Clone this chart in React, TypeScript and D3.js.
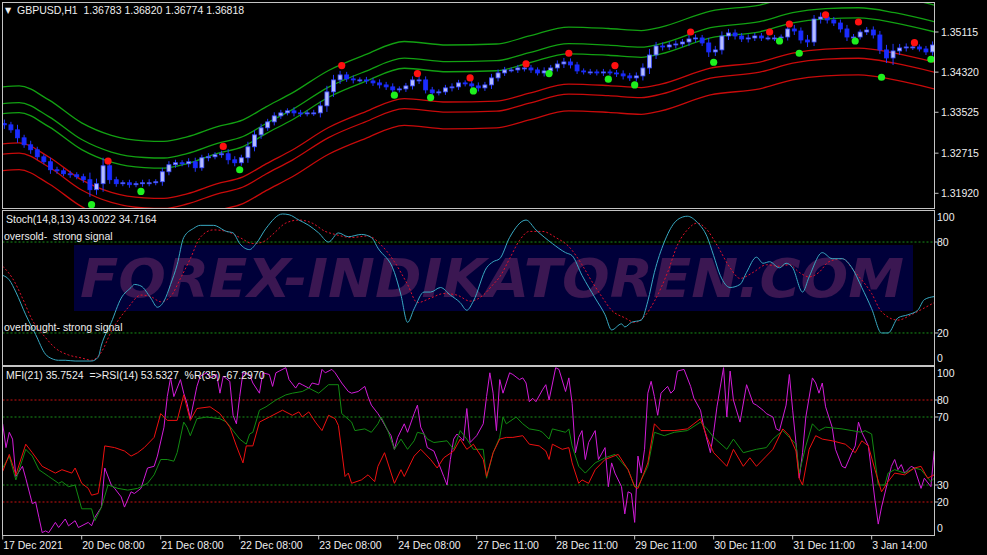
import React from "react";
import * as d3 from "d3";

const headerText = "GBPUSD,H1  1.36783 1.36820 1.36774 1.36818";
const stochTitle = "Stoch(14,8,13) 43.0022 34.7164";
const oversoldText = "oversold-  strong signal";
const overboughtText = "overbought- strong signal";
const oscTitle = "MFI(21) 35.7524  =>RSI(14) 53.5327  %R(35) -67.2970";
const watermark = "FOREX-INDIKATOREN.COM";

const priceTicks = [1.35115, 1.3432, 1.33525, 1.32715, 1.3192];
const timeLabels = ["17 Dec 2021", "20 Dec 08:00", "21 Dec 08:00", "22 Dec 08:00", "23 Dec 08:00", "24 Dec 08:00", "27 Dec 11:00", "28 Dec 11:00", "29 Dec 11:00", "30 Dec 11:00", "31 Dec 11:00", "3 Jan 14:00"];
const timeLabelBars = [0, 24, 48, 72, 96, 120, 144, 168, 192, 216, 240, 264];

// 2-hour candles: closes, open of first candle, wick size in pips
const firstOpen = 1.3330;
const closes = [
  1.33276, 1.33177, 1.33019, 1.32881, 1.32782, 1.32643, 1.32545, 1.32386, 1.32366, 1.32307,
  1.32287, 1.32248, 1.32189, 1.31991, 1.3211, 1.32465, 1.32189, 1.3211, 1.32129, 1.3209,
  1.3211, 1.32129, 1.32129, 1.32149, 1.32347, 1.32486, 1.32525, 1.32505, 1.32545, 1.32426,
  1.32624, 1.32643, 1.32683, 1.32703, 1.32584, 1.32525, 1.32624, 1.32841, 1.33078, 1.33217,
  1.33335, 1.33454, 1.33513, 1.33553, 1.33513, 1.33494, 1.33513, 1.33513, 1.33652, 1.33929,
  1.34166, 1.34265, 1.34186, 1.34166, 1.34166, 1.34146, 1.34107, 1.34067, 1.34028, 1.33968,
  1.33988, 1.34047, 1.34166, 1.34166, 1.33968, 1.33909, 1.33929, 1.34008, 1.34028, 1.34107,
  1.34087, 1.34047, 1.34008, 1.34067, 1.34206, 1.34304, 1.34364, 1.34364, 1.34403, 1.34403,
  1.34364, 1.34304, 1.34344, 1.34403, 1.34482, 1.34522, 1.34463, 1.34344, 1.34324, 1.34324,
  1.34304, 1.34324, 1.34304, 1.34285, 1.34245, 1.34206, 1.34245, 1.34403, 1.3466, 1.34838,
  1.34819, 1.34858, 1.34878, 1.34917, 1.34977, 1.34997, 1.34898, 1.3472, 1.3476, 1.35036,
  1.35096, 1.35036, 1.34977, 1.34997, 1.35036, 1.34997, 1.34997, 1.34997, 1.35016, 1.35175,
  1.35135, 1.34957, 1.34917, 1.35372, 1.35412, 1.35353, 1.35293, 1.35175, 1.35016, 1.35016,
  1.35115, 1.35155, 1.35056, 1.3476, 1.34601, 1.3474, 1.34799, 1.34819, 1.34819, 1.34779,
  1.3472, 1.34858,
];
const wickPips = [
  8, 6, 10, 6, 8, 6, 5, 8, 6, 5,
  6, 5, 6, 14, 10, 16, 8, 6, 5, 6,
  5, 6, 7, 5, 8, 7, 6, 5, 7, 8,
  6, 7, 5, 6, 9, 7, 6, 10, 9, 8,
  6, 7, 6, 5, 7, 6, 5, 6, 9, 12,
  10, 8, 6, 7, 5, 6, 6, 7, 6, 7,
  5, 6, 7, 8, 7, 6, 5, 6, 7, 6,
  5, 6, 7, 6, 8, 7, 6, 5, 6, 7,
  6, 5, 7, 6, 7, 8, 7, 6, 5, 6,
  5, 6, 5, 6, 7, 6, 7, 9, 12, 8,
  7, 6, 7, 6, 8, 7, 6, 10, 8, 9,
  8, 7, 6, 7, 6, 6, 5, 6, 5, 7,
  8, 7, 10, 8, 9, 7, 6, 7, 8, 6,
  5, 6, 7, 8, 10, 14, 8, 7, 6, 5,
  6, 7,
];

// envelope centre [hour, price] and deviations
const envCenter = [
  [0, 1.33197], [5, 1.33217], [14, 1.3294], [24, 1.32485], [33, 1.32238], [43, 1.32129],
  [49, 1.32119], [56, 1.32208], [65, 1.32406], [73, 1.32545], [80, 1.32802], [88, 1.33078],
  [99, 1.33523], [110, 1.3383], [122, 1.34097], [135, 1.34028], [150, 1.34047], [160, 1.34206],
  [172, 1.34383], [184, 1.34354], [194, 1.34314], [200, 1.34383], [215, 1.347], [230, 1.34819],
  [240, 1.34997], [250, 1.35076], [260, 1.35095], [271, 1.34997], [283, 1.34819],
];
const envDeviation = [0.003, 0.005, 0.0083];

const sellSignals = [
  [32, 1.32559], [67, 1.32848], [103, 1.34449], [126, 1.34291], [142, 1.34206], [159, 1.34482],
  [172, 1.34694], [186, 1.34449], [209, 1.35115], [233, 1.35115], [239, 1.35273], [250, 1.35457],
  [260, 1.35313], [277, 1.34903],
];
const buySignals = [
  [27, 1.31694], [42, 1.31958], [72, 1.32386], [119, 1.33863], [130, 1.33816], [143, 1.33948],
  [166, 1.34291], [184, 1.3418], [192, 1.34067], [216, 1.34516], [236, 1.34937], [242, 1.34694],
  [259, 1.34937], [267, 1.34219], [282, 1.34575],
];

const stochMain = [
  [0, 58], [2, 55], [4, 47], [7, 32], [10, 19], [13, 6], [15, 3], [17, 2], [19, 2], [22, 1.5],
  [27, 1.5], [29, 4], [30, 12], [33, 27], [36, 43], [39, 50], [40, 52], [42, 51], [45, 43], [47, 37],
  [49, 41], [51, 52], [53, 65], [55, 83], [58, 89], [60, 91], [64, 91], [68, 87], [70, 86], [72, 79],
  [75, 75], [77, 79], [80, 89], [85, 98.5], [87, 98], [90, 94.5], [93, 91], [96, 86], [99, 80], [102, 86],
  [105, 83.5], [109, 85], [112, 83], [114, 76], [119, 60], [121, 45], [123, 27], [125, 36], [128, 47], [130, 47],
  [133, 50], [136, 45], [139, 40], [141, 35], [143, 41], [147, 63], [149, 67], [151, 69], [154, 83], [159, 94.5],
  [162, 88], [167, 79], [171, 73], [173, 71], [176, 58], [180, 43], [183, 32], [185, 22], [188, 26], [189, 24],
  [191, 27], [194, 28.5], [196, 41], [198, 60], [201, 80], [204, 92.5], [206, 96], [208, 97], [211, 93], [214, 83.5],
  [216, 71], [218, 58], [221, 50], [224, 52], [226, 60], [229, 70], [231, 66], [233, 67], [236, 63], [238, 66],
  [240, 63], [243, 47], [245, 57], [249, 73], [252, 69], [255, 69], [258, 63], [261, 50], [264, 36], [267, 20],
  [269, 20], [272, 30], [275, 32], [278, 35], [280, 42], [283, 44],
];
const stochSignal = [
  [0, 64], [3, 56], [6, 43], [9, 28.5], [13, 17], [16, 10], [20, 5.5], [24, 3.5], [27, 2], [30, 7.5],
  [33, 21], [38, 36.5], [42, 45], [45, 44], [48, 40.6], [51, 44], [54, 56], [57, 69], [60, 83], [64, 88],
  [68, 87], [72, 83], [76, 79], [79, 80], [82, 85], [86, 92.5], [90, 94.5], [94, 92.5], [98, 87], [101, 85],
  [106, 83], [111, 84], [115, 78], [119, 67], [123, 52], [126, 40], [130, 43], [134, 46], [138, 45], [142, 41],
  [146, 45], [149, 52], [151, 57], [154, 69], [157, 81], [160, 87], [164, 87], [168, 83], [172, 77], [176, 65],
  [179, 54], [182, 44], [185, 35], [189, 30], [192, 27], [195, 31], [198, 41], [202, 60], [205, 78], [208, 88],
  [211, 92.5], [214, 88], [217, 78], [221, 63], [224, 56], [228, 60], [232, 65], [236, 64], [239, 65], [242, 60],
  [245, 57], [248, 60], [251, 67], [255, 69], [259, 60], [264, 46], [267, 34], [272, 28.5], [276, 32], [280, 36.5],
  [283, 40],
];
const stochLevels = [80, 20];
const stochAxis = [100, 80, 20, 0];

const wprSeries = [
  [0, 66], [1, 52], [2, 61], [3, 57], [4, 35], [6, 41], [7, 34], [9, 19], [10, 20], [11, 11],
  [12, 2], [13, 3], [14, 2], [16, 8], [17, 5], [19, 10], [20, 6], [22, 9], [23, 5], [26, 8],
  [27, 6], [28, 11], [30, 17], [31, 40], [33, 30], [34, 28], [36, 23], [37, 17], [39, 26], [40, 25],
  [42, 28], [43, 34], [44, 40], [46, 41], [47, 47], [49, 64], [50, 82], [51, 93], [52, 82], [53, 87],
  [54, 92], [55, 84], [56, 78], [57, 69], [59, 88], [60, 94], [62, 96], [63, 93], [65, 95], [66, 84],
  [67, 94], [69, 91], [70, 71], [71, 66], [72, 82], [73, 96], [75, 95], [76, 90], [78, 84], [79, 96],
  [81, 95], [82, 88], [83, 96], [84, 97], [86, 99], [87, 92], [89, 87], [90, 90], [91, 89], [93, 87],
  [94, 90], [96, 89], [97, 98], [98, 96], [100, 98], [101, 96], [103, 90], [105, 85], [106, 84], [108, 85],
  [110, 88], [111, 82], [112, 77], [114, 72], [115, 69], [117, 62], [118, 59], [119, 51], [120, 58], [122, 66],
  [123, 61], [125, 72], [126, 77], [127, 64], [128, 60], [129, 52], [131, 50], [132, 45], [134, 35], [135, 30],
  [136, 45], [137, 57], [138, 60], [140, 56], [141, 75], [142, 55], [144, 59], [146, 66], [147, 82], [148, 96],
  [149, 84], [150, 62], [151, 92], [152, 84], [154, 96], [155, 95], [157, 92], [158, 93], [159, 90], [160, 79],
  [161, 81], [162, 79], [164, 86], [165, 89], [166, 80], [168, 99], [169, 98], [171, 85], [172, 93], [173, 78],
  [174, 49], [175, 58], [176, 62], [177, 45], [178, 55], [180, 62], [181, 45], [183, 52], [184, 29], [185, 43],
  [186, 37], [188, 29], [189, 13], [190, 26], [191, 25], [192, 8], [193, 47], [194, 37], [195, 51], [196, 84],
  [197, 91], [198, 82], [199, 71], [200, 84], [202, 88], [203, 84], [204, 86], [205, 97], [207, 98], [209, 88],
  [210, 81], [212, 74], [213, 64], [215, 49], [216, 61], [217, 76], [219, 99], [220, 70], [221, 97], [222, 80],
  [224, 67], [226, 89], [228, 78], [229, 77], [231, 74], [232, 72], [234, 70], [235, 63], [236, 62], [238, 77],
  [239, 95], [240, 74], [241, 55], [242, 34], [243, 49], [244, 70], [246, 93], [247, 90], [248, 84], [249, 90],
  [250, 76], [252, 64], [253, 51], [255, 41], [256, 40], [258, 49], [259, 53], [260, 67], [261, 61], [263, 53],
  [264, 37], [265, 21], [266, 7], [267, 17], [269, 33], [270, 41], [271, 45], [272, 39], [273, 42], [274, 37],
  [276, 41], [277, 40], [279, 28], [280, 34], [282, 29], [283, 50],
];
const mfiSeries = [
  [0, 40], [2, 47], [4, 33], [7, 51], [9, 47], [11, 39], [14, 35], [17, 31], [18, 32], [20, 29],
  [22, 30], [24, 16], [27, 16], [28, 9], [30, 17], [32, 30], [35, 28], [38, 27], [41, 28], [44, 31],
  [46, 36], [48, 45], [50, 45], [52, 44], [53, 49], [55, 67], [56, 64], [57, 59], [59, 69], [62, 70],
  [66, 69], [68, 67], [70, 62], [72, 57], [74, 54], [75, 60], [76, 61], [78, 74], [80, 76], [83, 80],
  [86, 83], [88, 84], [91, 85], [93, 87], [96, 84], [99, 89], [102, 89], [103, 72], [106, 67], [107, 62],
  [110, 63], [112, 61], [114, 66], [115, 70], [117, 62], [119, 51], [121, 57], [123, 51], [125, 56], [126, 61],
  [128, 60], [129, 57], [131, 55], [135, 56], [137, 51], [139, 62], [141, 57], [143, 51], [146, 51], [147, 34],
  [149, 49], [151, 58], [152, 70], [153, 66], [156, 70], [158, 66], [160, 63], [163, 62], [164, 61], [166, 57],
  [167, 63], [169, 62], [171, 61], [172, 63], [173, 53], [175, 41], [177, 37], [180, 43], [183, 46], [186, 48],
  [190, 39], [192, 29], [193, 29], [196, 41], [198, 61], [201, 59], [204, 61], [208, 62], [212, 67], [214, 63],
  [216, 58], [220, 51], [222, 57], [225, 49], [229, 51], [232, 52], [234, 57], [237, 62], [239, 58], [241, 54],
  [242, 37], [244, 53], [246, 66], [248, 62], [250, 64], [255, 63], [258, 62], [261, 61], [262, 62], [264, 60],
  [266, 30], [268, 30], [269, 37], [271, 39], [274, 37], [277, 40], [279, 39], [282, 32], [283, 34],
];
const rsiSeries = [
  [0, 38], [2, 48], [4, 36], [7, 54], [9, 49], [12, 41], [14, 39], [16, 37], [18, 39], [21, 37],
  [22, 40], [24, 31], [26, 28], [27, 24], [29, 25], [30, 37], [31, 53], [34, 52], [37, 50], [39, 47],
  [41, 49], [43, 52], [46, 58], [48, 72], [50, 68], [53, 68], [55, 83], [57, 68], [59, 75], [63, 76],
  [66, 72], [69, 64], [71, 53], [73, 43], [74, 53], [76, 53], [78, 67], [81, 70], [85, 74], [88, 71],
  [90, 73], [91, 70], [93, 73], [95, 67], [97, 62], [99, 71], [101, 69], [102, 65], [104, 35], [105, 37],
  [106, 31], [109, 33], [111, 36], [113, 32], [114, 41], [116, 49], [119, 31], [121, 39], [122, 35], [125, 47],
  [127, 51], [130, 45], [132, 40], [134, 46], [137, 50], [139, 57], [141, 51], [143, 54], [146, 45], [147, 35],
  [149, 49], [151, 57], [153, 58], [155, 58], [158, 59], [160, 54], [163, 53], [165, 50], [166, 45], [167, 54],
  [170, 51], [172, 52], [173, 43], [175, 31], [176, 33], [178, 31], [180, 39], [183, 45], [187, 48], [190, 39],
  [192, 29], [193, 28], [196, 43], [198, 66], [200, 62], [204, 62], [208, 63], [212, 69], [214, 58], [216, 49],
  [220, 41], [222, 51], [225, 41], [227, 46], [229, 41], [232, 47], [234, 51], [237, 63], [239, 59], [241, 50],
  [242, 34], [243, 30], [245, 51], [247, 59], [249, 57], [252, 56], [256, 54], [259, 49], [261, 56], [263, 53],
  [265, 39], [267, 26], [269, 32], [271, 37], [274, 36], [277, 40], [279, 41], [281, 34], [283, 36],
];
const oscLevelsRed = [80, 20];
const oscLevelsGreen = [70, 30];
const oscAxis = [100, 80, 70, 30, 20, 0];

const FONT = "'Liberation Sans', Arial, sans-serif";
const TXT = "#eeeeee";
const FRAME = "#c4c4c4";
const PRE = { whiteSpace: "pre" as const };

export default function App() {
  const L = 2.5, R = 934.5;
  const main = { top: 2.5, bottom: 208.5 };
  const st = { top: 210.5, bottom: 365.5 };
  const os = { top: 366.5, bottom: 535.5 };

  const xS = d3.scaleLinear().domain([0, 283]).range([2.7, 934.2]);
  const yP = d3.scaleLinear().domain([1.3192, 1.35115]).range([193.3, 32]);
  const yS = d3.scaleLinear().domain([0, 100]).range([363.3, 211.7]);
  const yO = d3.scaleLinear().domain([0, 100]).range([536, 366]);

  const candles = closes.map((c, j) => {
    const o = j === 0 ? firstOpen : closes[j - 1];
    const w = wickPips[j] * 0.0001;
    return { h: 2 * j + 0.5, o, c, hi: Math.max(o, c) + w, lo: Math.min(o, c) - w };
  });

  const envLine = (sign: number, dev: number) =>
    d3.line<number[]>().x((d) => xS(d[0])).y((d) => yP(d[1] + sign * dev)).curve(d3.curveMonotoneX)(envCenter as any) || "";

  const stLine = (data: number[][]) =>
    d3.line<number[]>().x((d) => xS(d[0])).y((d) => yS(d[1])).curve(d3.curveMonotoneX)(data) || "";
  const osLine = (data: number[][]) =>
    d3.line<number[]>().x((d) => xS(d[0])).y((d) => yO(d[1]))(data) || "";

  const clampLabel = (y: number, top: number, bottom: number) => Math.min(Math.max(y, top + 6.5), bottom - 7.5);

  return (
    <svg width={987} height={555} style={{ position: "absolute", left: 0, top: 0, background: "#000", display: "block" }} fontFamily={FONT}>
      <defs>
        <clipPath id="clipMain"><rect x={L + 0.5} y={main.top + 0.5} width={R - L - 1} height={main.bottom - main.top - 1} /></clipPath>
        <clipPath id="clipSt"><rect x={L + 0.5} y={st.top + 0.5} width={R - L - 1} height={st.bottom - st.top - 1} /></clipPath>
        <clipPath id="clipOs"><rect x={L + 0.5} y={os.top + 0.5} width={R - L - 1} height={os.bottom - os.top - 1} /></clipPath>
      </defs>
      <rect x={0} y={0} width={987} height={555} fill="#000" />

      {/* ===== main panel ===== */}
      <g clipPath="url(#clipMain)">
        {envDeviation.map((d, i) => (
          <g key={"env" + i}>
            <path d={envLine(1, d)} fill="none" stroke="#12a012" strokeWidth={1.3} />
            <path d={envLine(-1, d)} fill="none" stroke="#c80a0a" strokeWidth={1.3} />
          </g>
        ))}
        {candles.map((k, i) => {
          const x = xS(k.h);
          const bull = k.c >= k.o;
          const yTop = yP(Math.max(k.o, k.c));
          const yBot = yP(Math.min(k.o, k.c));
          return (
            <g key={"c" + i}>
              <line x1={x} x2={x} y1={yP(k.hi)} y2={yP(k.lo)} stroke="#2436ff" strokeWidth={1} />
              <rect x={x - 2} y={yTop} width={4} height={Math.max(1, yBot - yTop)}
                fill={bull ? "#b4bcff" : "#1a2cff"} stroke={bull ? "#3a4cff" : "#1a2cff"} strokeWidth={0.8} />
            </g>
          );
        })}
        {sellSignals.map((d, i) => (
          <circle key={"s" + i} cx={xS(d[0])} cy={yP(d[1])} r={3.6} fill="#ff1010" />
        ))}
        {buySignals.map((d, i) => (
          <circle key={"b" + i} cx={xS(d[0])} cy={yP(d[1])} r={3.6} fill="#1ef01e" />
        ))}
      </g>
      <text x={5} y={13} fontSize={8} fill={TXT} fontFamily="'DejaVu Sans', sans-serif">▼</text>
      <text x={17} y={14} fontSize={10.5} fill={TXT} style={PRE}>{headerText}</text>
      {priceTicks.map((t, i) => (
        <g key={"pt" + i}>
          <line x1={R} x2={R + 4} y1={yP(t)} y2={yP(t)} stroke={FRAME} />
          <text x={941} y={yP(t)} dy="0.35em" fontSize={10.5} fill={TXT}>{t.toFixed(5)}</text>
        </g>
      ))}

      {/* ===== stochastic panel ===== */}
      <rect x={74} y={245} width={839} height={66} fill="#00003a" />
      <text x={80} y={297} fontSize={54} fontWeight="bold" fontStyle="italic" fill="#3b1752"
        fontFamily="'DejaVu Sans', sans-serif" textLength={824} lengthAdjust="spacingAndGlyphs">{watermark}</text>
      <g clipPath="url(#clipSt)">
        {stochLevels.map((v) => (
          <line key={"sl" + v} x1={L} x2={R} y1={yS(v)} y2={yS(v)} stroke="#189018" strokeDasharray="2,2" />
        ))}
        <path d={stLine(stochSignal)} fill="none" stroke="#e0102a" strokeWidth={1} strokeDasharray="2,2" />
        <path d={stLine(stochMain)} fill="none" stroke="#38a9c2" strokeWidth={1} />
      </g>
      <text x={6} y={223} fontSize={10.5} fill={TXT} style={PRE}>{stochTitle}</text>
      <text x={4} y={240} fontSize={10.5} fill={TXT} style={PRE}>{oversoldText}</text>
      <text x={4} y={331} fontSize={10.5} fill={TXT} style={PRE}>{overboughtText}</text>
      {stochAxis.map((v) => (
        <g key={"sa" + v}>
          {v > 0 && v < 100 && <line x1={R} x2={R + 4} y1={yS(v)} y2={yS(v)} stroke={FRAME} />}
          <text x={937} y={clampLabel(yS(v), st.top, st.bottom)} dy="0.35em" fontSize={10.5} fill={TXT}>{v}</text>
        </g>
      ))}

      {/* ===== oscillator panel ===== */}
      <g clipPath="url(#clipOs)">
        {oscLevelsRed.map((v) => (
          <line key={"or" + v} x1={L} x2={R} y1={yO(v)} y2={yO(v)} stroke="#c81010" strokeDasharray="2,2" />
        ))}
        {oscLevelsGreen.map((v) => (
          <line key={"og" + v} x1={L} x2={R} y1={yO(v)} y2={yO(v)} stroke="#189018" strokeDasharray="2,2" />
        ))}
        <path d={osLine(wprSeries)} fill="none" stroke="#d21cd8" strokeWidth={1} />
        <path d={osLine(mfiSeries)} fill="none" stroke="#128a12" strokeWidth={1} />
        <path d={osLine(rsiSeries)} fill="none" stroke="#ee1010" strokeWidth={1} />
      </g>
      <text x={6} y={379} fontSize={10.5} fill={TXT} style={PRE}>{oscTitle}</text>
      {oscAxis.map((v) => (
        <g key={"oa" + v}>
          {v > 0 && v < 100 && <line x1={R} x2={R + 4} y1={yO(v)} y2={yO(v)} stroke={FRAME} />}
          <text x={937} y={clampLabel(yO(v), os.top, os.bottom)} dy="0.35em" fontSize={10.5} fill={TXT}>{v}</text>
        </g>
      ))}

      {/* ===== frames ===== */}
      <rect x={L} y={main.top} width={R - L} height={main.bottom - main.top} fill="none" stroke={FRAME} />
      <rect x={L} y={st.top} width={R - L} height={st.bottom - st.top} fill="none" stroke={FRAME} />
      <rect x={L} y={os.top} width={R - L} height={os.bottom - os.top} fill="none" stroke={FRAME} />

      {/* ===== time axis ===== */}
      {timeLabelBars.map((b, i) => (
        <g key={"t" + i}>
          <line x1={xS(b)} x2={xS(b)} y1={os.bottom} y2={os.bottom + 4} stroke={FRAME} />
          <text x={xS(b) + 0.5} y={549} fontSize={10.5} fill={TXT}>{timeLabels[i]}</text>
        </g>
      ))}
    </svg>
  );
}
